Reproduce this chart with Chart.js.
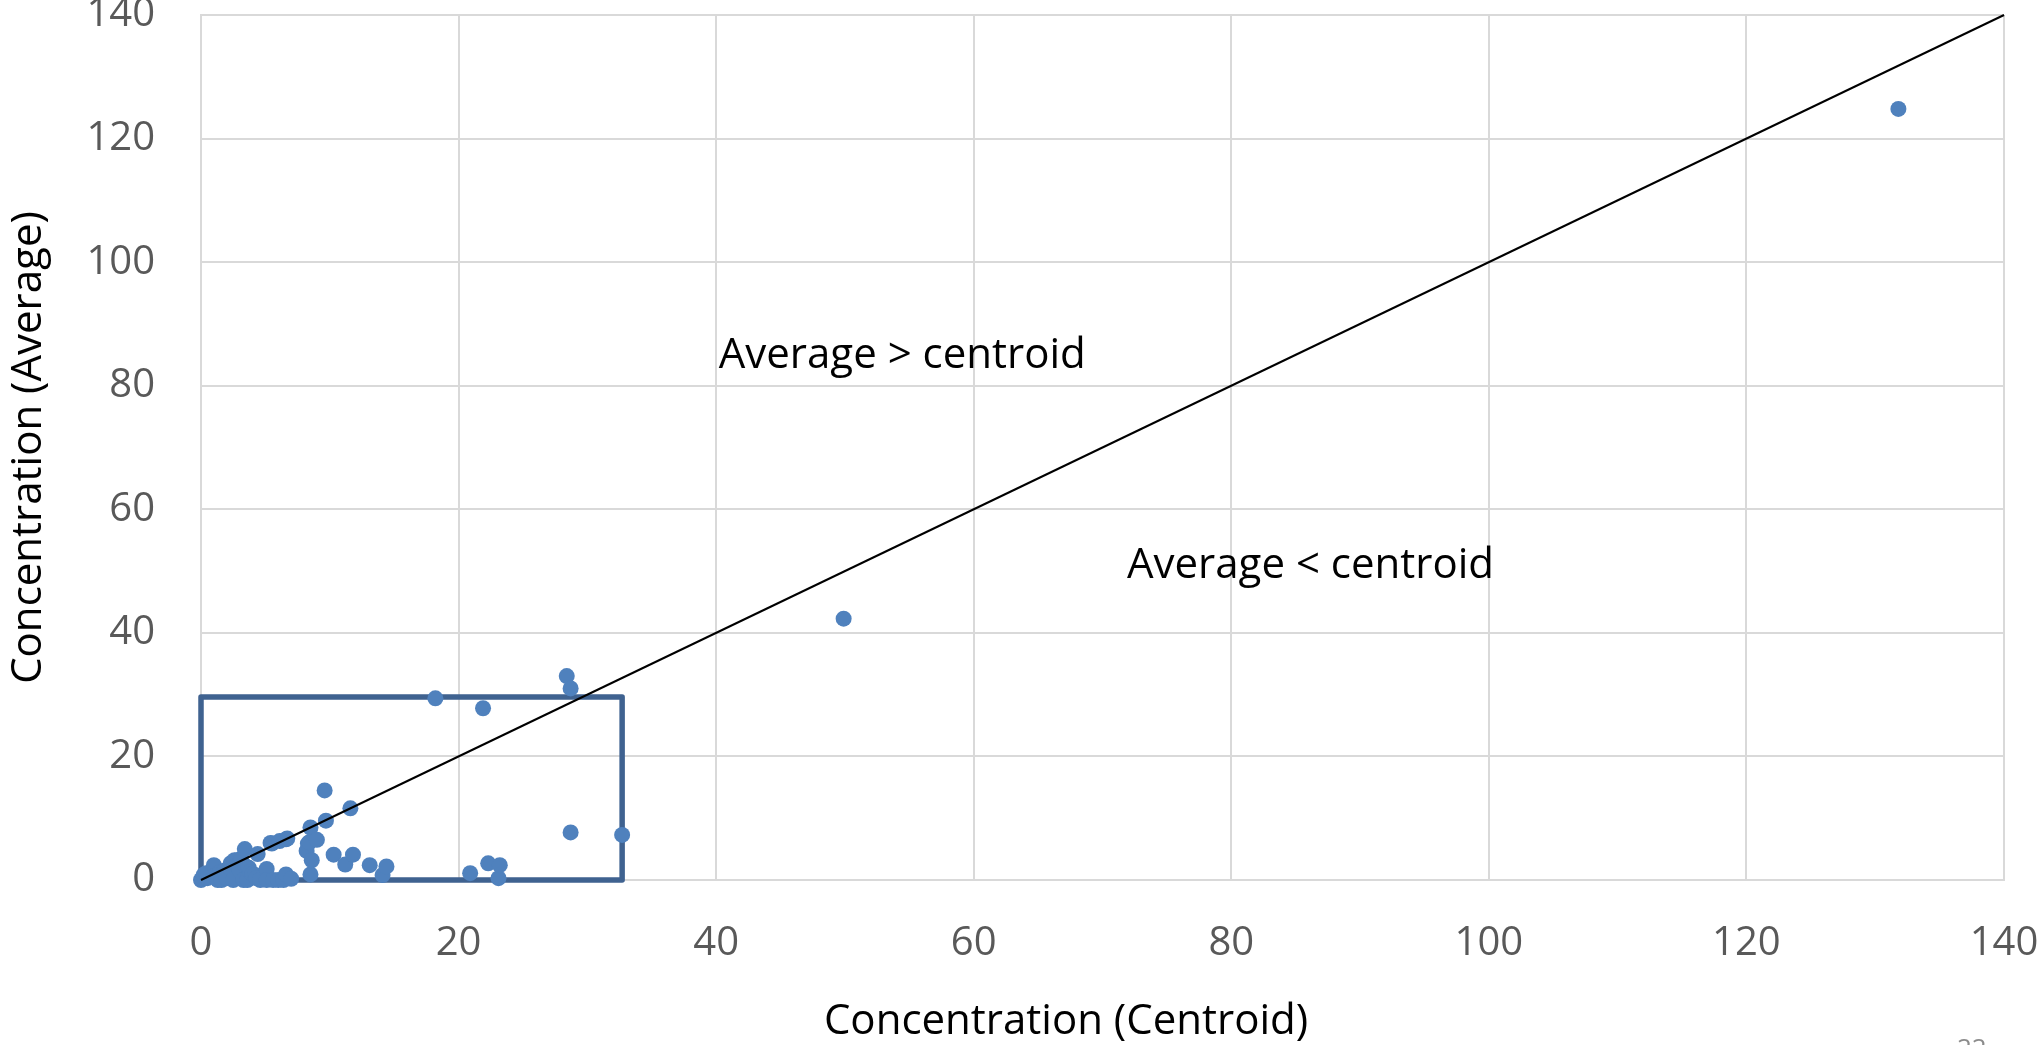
<!DOCTYPE html>
<html>
<head>
<meta charset="utf-8">
<script src="https://cdn.jsdelivr.net/npm/chart.js@4.4.1/dist/chart.umd.min.js"></script>
<style>
  html, body { margin: 0; padding: 0; background: #fff; overflow: hidden; }
  #wrap { position: relative; width: 2042px; height: 1045px; }
  #pageNum { position: absolute; left: 1957px; top: 1029px; font: 26px "Open Sans", sans-serif; color: #8c8c8c; }
</style>
</head>
<body>
<div id="wrap">
  <canvas id="myChart" width="2042" height="1045"></canvas>
  <div id="pageNum">22</div>
</div>
<script>
// Data
const centroid = [
    0, 0.2, 0.4, 0.5, 1.0, 1.0, 1.3, 1.5, 1.6, 1.8, 2.0, 2.2, 2.3, 2.5, 2.6, 2.8, 2.8, 3.0, 3.1, 3.3,
    3.4, 3.5, 3.6, 3.7, 3.8, 4.0, 4.2, 4.3, 4.4, 4.6, 5.1, 5.1, 5.4, 5.5, 5.6, 6.0, 6.1, 6.4, 6.6,
    6.6, 6.7, 7.0,
    8.2, 8.3, 8.4, 8.5, 8.5, 8.6, 9.0, 9.6, 9.7, 10.3, 11.2, 11.6, 11.8, 13.1, 14.1, 14.4,
    18.2, 20.9, 21.9, 22.3, 23.1, 23.2, 28.4, 28.7, 28.7, 32.7, 49.9, 131.8
];
const average = [
    0, 0.8, 1.1, 0.3, 2.4, 0.6, 0, 1.3, 0, 1.5, 0.3, 2.0, 2.7, 0, 3.2, 3.2, 2.4, 1.6, 3.4, 0,
    5.0, 2.2, 0, 2.0, 1.3, 1.0, 0.8, 0.3, 4.2, 0, 1.8, 0, 6.0, 5.9, 0, 0, 6.3, 0, 0.9,
    6.6, 6.7, 0.2,
    4.7, 5.9, 6.1, 8.5, 0.9, 3.2, 6.5, 14.5, 9.6, 4.1, 2.5, 11.6, 4.1, 2.4, 0.8, 2.2,
    29.4, 1.1, 27.8, 2.7, 0.3, 2.4, 33.0, 31.0, 7.7, 7.3, 42.3, 124.8
];

const diagonalX = [0, 140];
const diagonalY = [0, 140];

const boxX = [0, 0, 32.7, 32.7, 0];
const boxY = [0, 29.6, 29.6, 0, 0];

const tickValues = [0, 20, 40, 60, 80, 100, 120, 140];

const notes = [
    { text: 'Average > centroid', x: 40.2, y: 84.8 },
    { text: 'Average < centroid', x: 71.9, y: 50.8 }
];

const xTitle = 'Concentration (Centroid)';
const yTitle = 'Concentration (Average)';

const toPoints = (xs, ys) => xs.map((x, i) => ({ x: x, y: ys[i] }));

// text on top of the chart: axis titles and the two notes
const textPlugin = {
    id: 'texts',
    afterDraw(chart) {
        const { ctx, chartArea, scales } = chart;
        ctx.save();
        ctx.fillStyle = '#000';
        ctx.font = '42px "Open Sans"';
        ctx.textBaseline = 'middle';
        ctx.textAlign = 'left';
        notes.forEach(n => {
            ctx.fillText(n.text, scales.x.getPixelForValue(n.x), scales.y.getPixelForValue(n.y));
        });

        ctx.textAlign = 'center';
        ctx.fillText(xTitle, 1066, 1022);

        ctx.translate(29, (chartArea.top + chartArea.bottom) / 2);
        ctx.rotate(-Math.PI / 2);
        ctx.fillText(yTitle, 0, 0);
        ctx.restore();
    }
};

const ctx = document.getElementById('myChart').getContext('2d');

// no extra room for tick labels spilling past the plot: the reference cuts them
const noPadding = (scale) => {
    scale.paddingTop = 0;
    scale.paddingBottom = 0;
    scale.paddingLeft = 0;
    scale.paddingRight = 0;
};

const axis = (extra) => Object.assign({
    type: 'linear',
    min: 0,
    max: 140,
    afterBuildTicks: (scale) => { scale.ticks = tickValues.map(v => ({ value: v })); },
    grid: { color: '#d9d9d9', lineWidth: 2, drawTicks: false },
    border: { color: '#d9d9d9', width: 2 }
}, extra);

const myChart = new Chart(ctx, {
    type: 'scatter',
    data: {
        datasets: [
            {
                label: 'Equal',
                data: toPoints(diagonalX, diagonalY),
                showLine: true,
                borderColor: '#000',
                borderWidth: 2,
                pointRadius: 0,
                clip: false,
                order: 0
            },
            {
                label: 'Concentration',
                data: toPoints(centroid, average),
                backgroundColor: '#4f81bd',
                borderWidth: 0,
                pointRadius: 8,
                clip: false,
                order: 1
            },
            {
                label: 'Box',
                data: toPoints(boxX, boxY),
                showLine: true,
                borderColor: '#3f6290',
                borderWidth: 5.5,
                borderJoinStyle: 'round',
                pointRadius: 0,
                clip: false,
                order: 2
            }
        ]
    },
    options: {
        responsive: false,
        animation: false,
        layout: { padding: { top: 15, right: 38, left: 0, bottom: 0 } },
        plugins: { legend: { display: false }, tooltip: { enabled: false } },
        scales: {
            x: axis({
                afterFit: (scale) => { scale.height = 165; noPadding(scale); },
                ticks: { color: '#595959', padding: 40, font: { family: 'Open Sans', size: 40 } }
            }),
            y: axis({
                afterFit: (scale) => { scale.width = 201; noPadding(scale); },
                ticks: { color: '#595959', padding: 46, font: { family: 'Open Sans', size: 40 } }
            })
        }
    },
    plugins: [textPlugin]
});
</script>
</body>
</html>
